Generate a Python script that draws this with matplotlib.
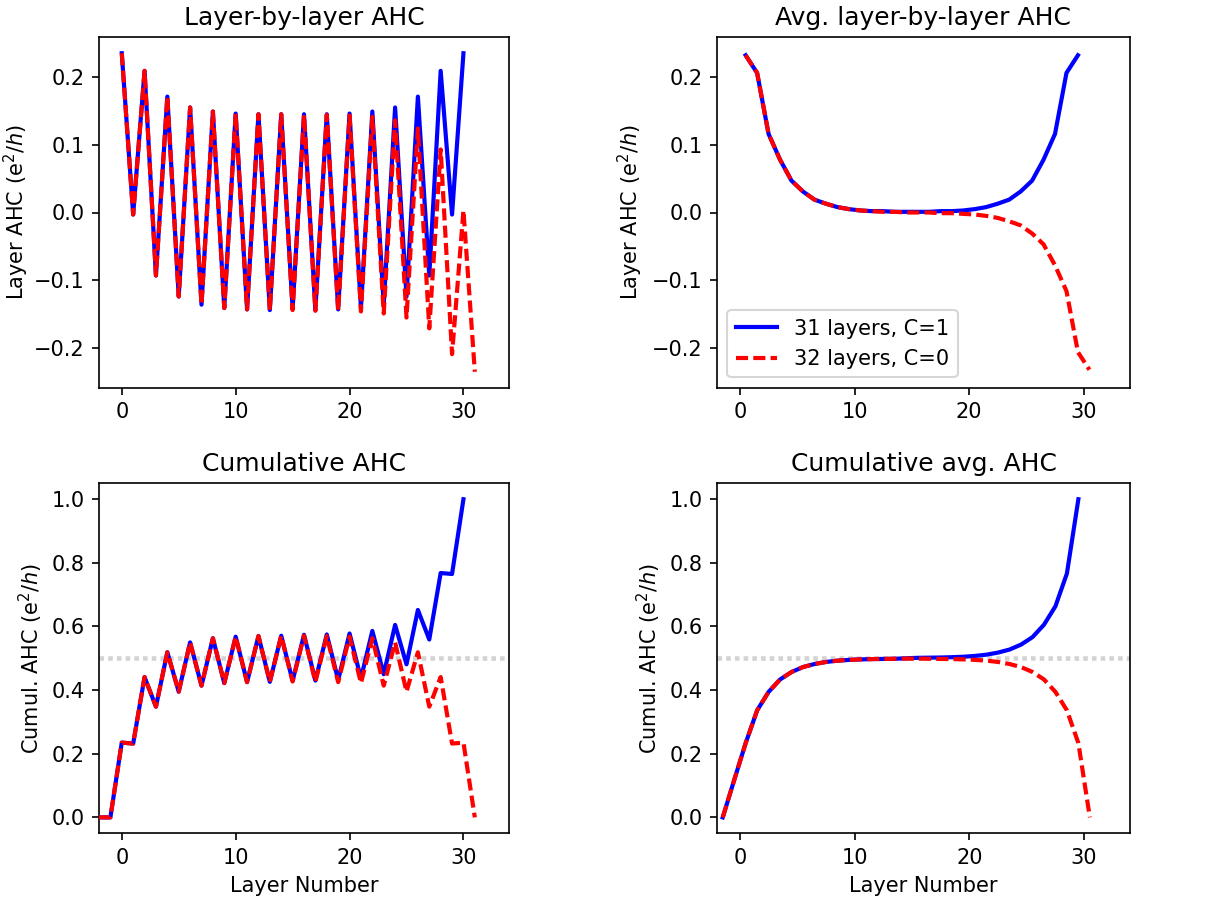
import matplotlib
matplotlib.use("Agg")
import matplotlib.pyplot as plt

# ---------------- data ----------------
layers_31 = list(range(0, 31))
layers_32 = list(range(0, 32))

ahc_31 = [0.235, -0.003, 0.209, -0.093, 0.171, -0.124, 0.155, -0.136, 0.149, -0.141,
          0.146, -0.143, 0.145, -0.144, 0.145, -0.142, 0.145, -0.144, 0.145, -0.143,
          0.146, -0.141, 0.149, -0.136, 0.155, -0.124, 0.171, -0.093, 0.209, -0.003,
          0.235]
ahc_32 = [0.235, -0.003, 0.209, -0.093, 0.171, -0.124, 0.155, -0.136, 0.149, -0.141,
          0.146, -0.143, 0.145, -0.144, 0.145, -0.144, 0.144, -0.145, 0.144, -0.145,
          0.143, -0.146, 0.141, -0.149, 0.136, -0.155, 0.124, -0.171, 0.093, -0.209,
          0.003, -0.235]

avg_x_31 = [i + 0.5 for i in range(0, 30)]
avg_x_32 = [i + 0.5 for i in range(0, 31)]
avg_31 = [0.232, 0.206, 0.116, 0.078, 0.047, 0.031, 0.019, 0.013, 0.008, 0.005,
          0.003, 0.002, 0.002, 0.001, 0.001, 0.001, 0.001, 0.002, 0.002, 0.003,
          0.005, 0.008, 0.013, 0.019, 0.031, 0.047, 0.078, 0.116, 0.206, 0.232]
avg_32 = [0.232, 0.206, 0.116, 0.078, 0.047, 0.031, 0.019, 0.013, 0.008, 0.005,
          0.003, 0.002, 0.001, 0.001, 0.000, 0.000, 0.000, -0.001, -0.001, -0.002,
          -0.003, -0.005, -0.008, -0.013, -0.019, -0.031, -0.047, -0.078, -0.116,
          -0.206, -0.232]

cum_x_31 = list(range(-2, 31))
cum_x_32 = list(range(-2, 32))
cum_31 = [0.0, 0.0, 0.235, 0.232, 0.441, 0.348, 0.519, 0.395, 0.550, 0.414, 0.563,
          0.422, 0.568, 0.425, 0.570, 0.426, 0.571, 0.429, 0.574, 0.430, 0.575,
          0.432, 0.578, 0.437, 0.586, 0.450, 0.605, 0.481, 0.652, 0.559, 0.768,
          0.765, 1.000]
cum_32 = [0.0, 0.0, 0.235, 0.232, 0.441, 0.348, 0.519, 0.395, 0.550, 0.414, 0.563,
          0.422, 0.568, 0.425, 0.570, 0.426, 0.571, 0.427, 0.571, 0.426, 0.570,
          0.425, 0.568, 0.422, 0.563, 0.414, 0.550, 0.395, 0.519, 0.348, 0.441,
          0.232, 0.235, 0.000]

cavg_x_31 = [i - 1.5 for i in range(0, 32)]
cavg_x_32 = [i - 1.5 for i in range(0, 33)]
cavg_31 = [0.0, 0.1175, 0.2335, 0.3365, 0.3945, 0.4335, 0.457, 0.4725, 0.482, 0.4885,
           0.4925, 0.495, 0.4965, 0.4975, 0.498, 0.4985, 0.500, 0.5015, 0.502, 0.5025,
           0.5035, 0.505, 0.5075, 0.5115, 0.518, 0.5275, 0.543, 0.5665, 0.6055,
           0.6635, 0.7665, 1.000]
cavg_32 = [0.0, 0.1175, 0.2335, 0.3365, 0.3945, 0.4335, 0.457, 0.4725, 0.482, 0.4885,
           0.4925, 0.495, 0.4965, 0.4975, 0.498, 0.4985, 0.499, 0.499, 0.4985, 0.498,
           0.4975, 0.4965, 0.495, 0.4925, 0.4885, 0.482, 0.4725, 0.457, 0.4335,
           0.3945, 0.3365, 0.2335, 0.000]

labels = ["31 layers, C=1", "32 layers, C=0"]
titles = ["Layer-by-layer AHC", "Avg. layer-by-layer AHC",
          "Cumulative AHC", "Cumulative avg. AHC"]

# ---------------- figure ----------------
W, H, DPI = 1217, 905, 150
FS = 10
plt.rcParams.update({"xtick.labelsize": FS, "ytick.labelsize": FS,
                     "axes.labelsize": FS, "legend.fontsize": FS})
fig, axes = plt.subplots(2, 2, figsize=(W / DPI, H / DPI), dpi=DPI)

positions = [
    (99, 37.3, 509, 387.7),
    (717, 37.3, 1129.5, 387.7),
    (99, 483.3, 509, 833.3),
    (717, 483.3, 1130, 833.3),
]
ylabel_x = [31, 645, 45, 663]   # right edge of the y-label text, in pixels
for ax, (l, t, r, b), yx in zip(axes.flat, positions, ylabel_x):
    ax.set_position([l / W, 1 - b / H, (r - l) / W, (b - t) / H])
    ax.yaxis.set_label_coords((yx - l) / (r - l), 0.5)

blue_kw = dict(color="blue", lw=2, ls="-")
red_kw = dict(color="red", lw=2, ls="--", dashes=(2.9, 1.25))

series = [
    ((layers_31, ahc_31), (layers_32, ahc_32)),
    ((avg_x_31, avg_31), (avg_x_32, avg_32)),
    ((cum_x_31, cum_31), (cum_x_32, cum_32)),
    ((cavg_x_31, cavg_31), (cavg_x_32, cavg_32)),
]

for k, (ax, (s31, s32)) in enumerate(zip(axes.flat, series)):
    ax.plot(*s31, label=labels[0], zorder=3, **blue_kw)
    ax.plot(*s32, label=labels[1], zorder=4, **red_kw)
    ax.set_title(titles[k], fontsize=12)
    ax.set_xlim(-2, 34)
    ax.set_xticks([0, 10, 20, 30])
    if k < 2:
        ax.set_ylabel(r"Layer AHC (e$^2$/$h$)")
        ax.set_yticks([-0.2, -0.1, 0.0, 0.1, 0.2])
    else:
        ax.set_ylabel(r"Cumul. AHC (e$^2$/$h$)")
        ax.set_xlabel("Layer Number")
        ax.axhline(0.5, color="lightgray", lw=2.2, ls=(0, (1, 0.9)), zorder=1)
        ax.set_ylim(-0.05, 1.05)
        ax.set_yticks([0.0, 0.2, 0.4, 0.6, 0.8, 1.0])

axes[0, 0].set_ylim(-0.2585, 0.2585)
axes[0, 1].set_ylim(-0.2585, 0.2585)
axes[0, 1].legend(loc="lower left")

fig.savefig("out.png", dpi=DPI)
